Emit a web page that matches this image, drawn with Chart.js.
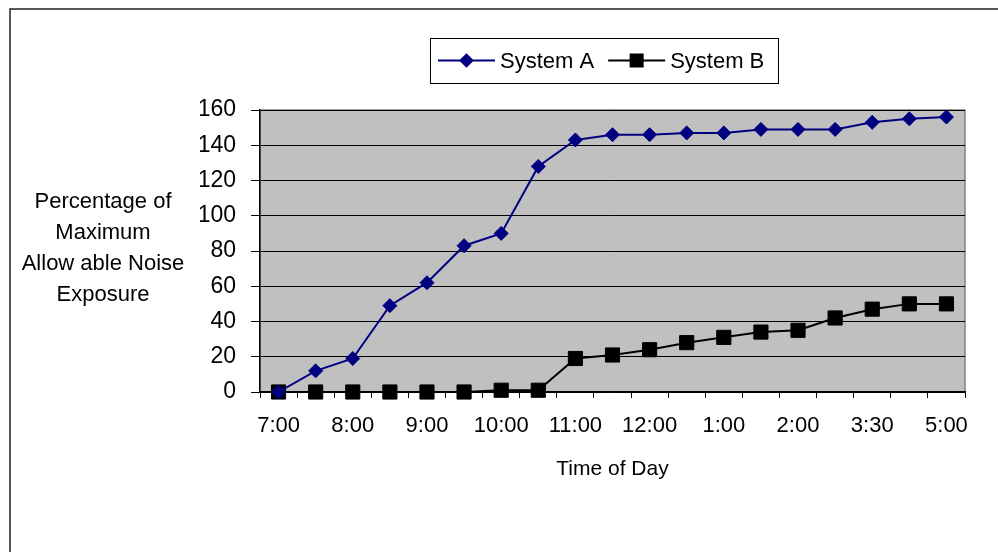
<!DOCTYPE html>
<html>
<head>
<meta charset="utf-8">
<script src="https://cdn.jsdelivr.net/npm/chart.js@4/dist/chart.umd.min.js"></script>
<style>
    html, body { margin: 0; padding: 0; background: #fff; overflow: hidden; }
    #wrap { width: 998px; height: 552px; position: relative; }
</style>
</head>
<body>
<div id="wrap"><canvas id="chartNoise"></canvas></div>
<script>
// categories (only every other point carries a label on the axis)
const timeLabels = ['7:00', '', '8:00', '', '9:00', '', '10:00', '', '11:00', '', '12:00', '', '1:00', '', '2:00', '', '3:30', '', '5:00'];
const systemA = [0, 12, 19, 49, 62, 83, 90, 128, 143, 146, 146, 147, 147, 149, 149, 149, 153, 155, 156];
const systemB = [0, 0, 0, 0, 0, 0, 1, 1, 19, 21, 24, 28, 31, 34, 35, 42, 47, 50, 50];
const yTitleLines = ['Percentage of', 'Maximum', 'Allow able Noise', 'Exposure'];
const xTitle = 'Time of Day';

const FONT = "'Liberation Sans', Arial, sans-serif";

// plot background, frame, y title and the boxed legend
const decorPlugin = {
    id: 'decor',
    beforeDraw(chart) {
        const ctx = chart.ctx;
        const a = chart.chartArea;
        ctx.save();
        ctx.fillStyle = '#C0C0C0';
        ctx.fillRect(a.left, a.top, a.right - a.left, a.bottom - a.top);
        ctx.strokeStyle = '#808080';
        ctx.lineWidth = 1.5;
        ctx.strokeRect(a.left, a.top, a.right - a.left, a.bottom - a.top);

        // outer frame (runs off the bottom and right edge)
        ctx.strokeStyle = '#222';
        ctx.lineWidth = 1.5;
        ctx.beginPath();
        ctx.moveTo(10, chart.height + 10);
        ctx.lineTo(10, 9);
        ctx.lineTo(chart.width + 10, 9);
        ctx.stroke();
        ctx.restore();
    },
    afterDraw(chart) {
        const ctx = chart.ctx;
        const a = chart.chartArea;
        ctx.save();

        // y axis title, horizontal lines
        ctx.fillStyle = '#000';
        ctx.font = '22px ' + FONT;
        ctx.textAlign = 'center';
        ctx.textBaseline = 'middle';
        const cx = a.left - 157;
        const midY = (a.top + a.bottom) / 2 - 2.5;
        yTitleLines.forEach((line, i) => {
            ctx.fillText(line, cx, midY + (i - 1.5) * 31);
        });

        // legend
        const bx = a.left + 170, by = 38, bw = 348, bh = 45;
        ctx.fillStyle = '#fff';
        ctx.fillRect(bx, by, bw, bh);
        ctx.strokeStyle = '#000';
        ctx.lineWidth = 1;
        ctx.strokeRect(bx + 0.5, by + 0.5, bw, bh);

        const ly = by + bh / 2;
        let x = bx + 8;
        chart.data.datasets.forEach(ds => {
            ctx.strokeStyle = ds.borderColor;
            ctx.lineWidth = 2;
            ctx.beginPath();
            ctx.moveTo(x, ly);
            ctx.lineTo(x + 57, ly);
            ctx.stroke();
            ctx.fillStyle = ds.pointBackgroundColor;
            ctx.strokeStyle = ds.pointBorderColor;
            Chart.helpers.drawPoint(ctx, {
                pointStyle: ds.pointStyle,
                radius: ds.pointRadius * 0.85,
                rotation: 0,
                borderWidth: 1
            }, x + 28.5, ly);
            ctx.fillStyle = '#000';
            ctx.font = '22px ' + FONT;
            ctx.textAlign = 'left';
            ctx.textBaseline = 'middle';
            ctx.fillText(ds.label, x + 62, ly + 1);
            x += 62 + ctx.measureText(ds.label).width + 14;
        });
        ctx.restore();
    }
};

const ctx = document.getElementById('chartNoise').getContext('2d');
new Chart(ctx, {
    type: 'line',
    data: {
        labels: timeLabels,
        datasets: [
            {
                label: 'System A',
                data: systemA,
                borderColor: '#000080',
                backgroundColor: '#000080',
                pointBackgroundColor: '#000080',
                pointBorderColor: '#000080',
                pointStyle: 'rectRot',
                pointRadius: 7,
                pointBorderWidth: 1,
                borderWidth: 2,
                tension: 0,
                clip: false
            },
            {
                label: 'System B',
                data: systemB,
                borderColor: '#000000',
                backgroundColor: '#000000',
                pointBackgroundColor: '#000000',
                pointBorderColor: '#000000',
                pointStyle: 'rect',
                pointRadius: 10,
                pointBorderWidth: 1,
                borderWidth: 2,
                tension: 0,
                clip: false
            }
        ]
    },
    options: {
        responsive: true,
        maintainAspectRatio: false,
        animation: false,
        layout: {
            padding: { left: 200, right: 33, top: 110, bottom: 60 }
        },
        plugins: {
            legend: { display: false },
            tooltip: { enabled: false }
        },
        scales: {
            x: {
                offset: true,
                afterFit: scale => { scale.height = 100; },
                grid: {
                    offset: true,
                    drawOnChartArea: false,
                    drawTicks: true,
                    tickLength: 6,
                    color: '#000'
                },
                border: { display: true, color: '#000', width: 1.5 },
                ticks: {
                    autoSkip: false,
                    maxRotation: 0,
                    padding: 15,
                    color: '#000',
                    font: { family: FONT, size: 22 }
                },
                title: {
                    display: true,
                    text: xTitle,
                    color: '#000',
                    font: { family: FONT, size: 21 },
                    padding: { top: 0, bottom: 10 }
                }
            },
            y: {
                min: 0,
                max: 160,
                afterFit: scale => { scale.width = 60; },
                grid: {
                    color: '#000',
                    lineWidth: 1,
                    drawTicks: true,
                    tickLength: 9
                },
                border: { display: true, color: '#000', width: 1.5 },
                ticks: {
                    stepSize: 20,
                    padding: 15,
                    color: '#000',
                    font: { family: FONT, size: 23 }
                }
            }
        }
    },
    plugins: [decorPlugin]
});
</script>
</body>
</html>
